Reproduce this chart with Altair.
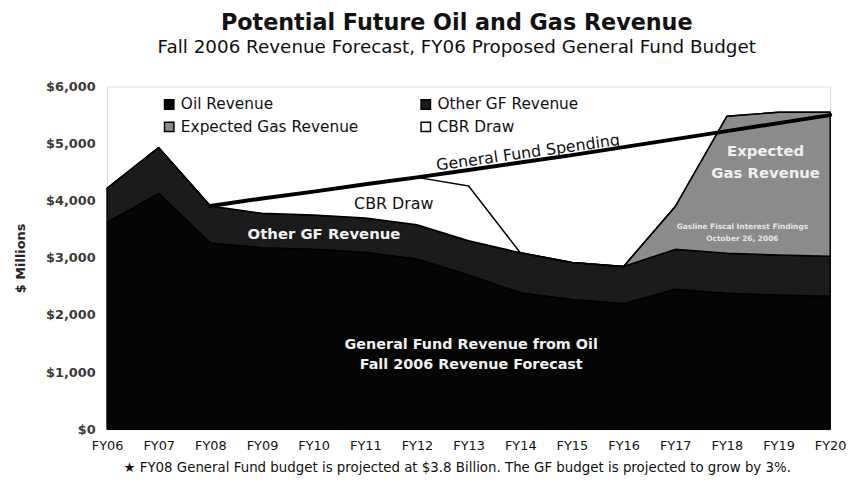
import altair as alt
import pandas as pd

# ---------------- data ($ millions) ----------------
years = list(range(6, 21))
fy_labels = ["FY06", "FY07", "FY08", "FY09", "FY10", "FY11", "FY12", "FY13",
             "FY14", "FY15", "FY16", "FY17", "FY18", "FY19", "FY20"]
y_ticks = [0, 1000, 2000, 3000, 4000, 5000, 6000]

oil = [3620, 4130, 3260, 3180, 3150, 3100, 2980, 2700, 2390, 2270, 2200, 2450, 2380, 2350, 2330]
other = [600, 800, 650, 600, 600, 600, 600, 600, 700, 650, 650, 700, 700, 700, 700]
gas = [0, 0, 0, 0, 0, 0, 0, 0, 0, 0, 0, 750, 2400, 2500, 2520]
cbr = [0, 0, 0, 260, 410, 590, 830, 960, 0, 0, 0, 0, 0, 0, 0]

spend_years = list(range(8, 21))
spending = [3910, 4040, 4160, 4290, 4410, 4540, 4670, 4800, 4940, 5080, 5220, 5360, 5500]

series_names = ["Oil Revenue", "Other GF Revenue", "Expected Gas Revenue", "CBR Draw"]
series_colors = ["#050505", "#1b1b1b", "#8b8b8b", "#ffffff"]

title_text = "Potential Future Oil and Gas Revenue"
subtitle_text = "Fall 2006 Revenue Forecast, FY06 Proposed General Fund Budget"
footnote = "\u2605 FY08 General Fund budget is projected at $3.8 Billion.  The GF budget is projected to grow by 3%."

# ---------------- tables ----------------
rows = []
for k, (name, vals) in enumerate(zip(series_names, [oil, other, gas, cbr])):
    for yr, v in zip(years, vals):
        rows.append({"year": yr, "series": name, "order": k, "value": v})
df = pd.DataFrame(rows)
spend_df = pd.DataFrame({"year": spend_years, "value": spending})

FONT = "DejaVu Sans"
label_array = "[" + ",".join("'%s'" % s for s in fy_labels) + "]"

x_enc = alt.X(
    "year:Q",
    scale=alt.Scale(domain=[years[0], years[-1]], nice=False, zero=False),
    axis=alt.Axis(
        values=years, labelExpr=label_array + "[datum.value - 6]",
        ticks=False, domain=False, grid=False, labelFlush=False, labelOverlap=False,
        labelFont=FONT, labelFontSize=13, labelColor="#111", labelPadding=10,
        title=footnote, titleFont=FONT, titleFontSize=13.5, titleFontWeight="normal",
        titleColor="#111", titleX=353, titleY=43, titleBaseline="alphabetic",
    ),
)
y_enc = alt.Y(
    "value:Q",
    stack="zero",
    scale=alt.Scale(domain=[0, 6000], nice=False),
    axis=alt.Axis(
        values=y_ticks, format="$,.0f", ticks=False, domain=False, grid=False,
        labelFont=FONT, labelFontSize=13, labelFontWeight="bold", labelColor="#3a3a3a",
        labelPadding=12,
        title="$ Millions", titleFont=FONT, titleFontSize=13, titleFontWeight="bold",
        titleColor="#222", titlePadding=18,
    ),
)

areas = alt.Chart(df).mark_area(stroke="black", strokeWidth=1.5, strokeJoin="round").encode(
    x=x_enc,
    y=y_enc,
    color=alt.Color(
        "series:N",
        scale=alt.Scale(domain=series_names, range=series_colors),
        legend=alt.Legend(
            title=None, orient="none", legendX=55, legendY=10, columns=2,
            direction="horizontal", columnPadding=60, rowPadding=6, padding=0,
            symbolType="square", symbolSize=90, symbolStrokeColor="black",
            symbolStrokeWidth=1.5, symbolOpacity=1, labelLimit=400,
            labelFont=FONT, labelFontSize=15.5, labelColor="#111", labelOffset=4,
        ),
    ),
    order=alt.Order("order:Q"),
)

line = alt.Chart(spend_df).mark_line(color="black", strokeWidth=4, strokeCap="round").encode(
    x="year:Q", y="value:Q"
)


def note(text, x, y, **kw):
    d = pd.DataFrame({"x": [x], "y": [y], "t": [text]})
    return alt.Chart(d).mark_text(lineBreak="\n", **kw).encode(
        x="x:Q", y="y:Q", text="t:N"
    )


notes = [
    note("General Fund Spending", 14.15, 4840, font=FONT, fontSize=16, color="#111", angle=352),
    note("CBR Draw", 11.55, 3936, font=FONT, fontSize=16, color="#111"),
    note("Other GF Revenue", 10.2, 3416, font=FONT, fontSize=15, fontWeight="bold",
         color="#f2f2f2"),
    note("Expected\nGas Revenue", 18.75, 4870, font=FONT, fontSize=15, fontWeight="bold",
         color="#f0f0f0", lineHeight=22, baseline="middle"),
    note("Gasline Fiscal Interest Findings\nOctober 26, 2006", 18.3, 3540, font=FONT,
         fontSize=7.5, fontWeight="bold", color="#e6e6e6", lineHeight=12, baseline="middle"),
    note("General Fund Revenue from Oil\nFall 2006 Revenue Forecast", 13.05, 1474, font=FONT,
         fontSize=14.5, fontWeight="bold", color="#f0f0f0", lineHeight=20, baseline="middle"),
]

chart = alt.layer(areas, line, *notes).properties(
    width=730,
    height=346,
    autosize=alt.AutoSizeParams(type="none"),
    padding={"left": 100, "top": 77, "right": 19, "bottom": 58},
    title=alt.TitleParams(
        text=title_text, subtitle=subtitle_text, anchor="middle", frame="group",
        font=FONT, fontSize=22.5, fontWeight="bold", color="#111",
        subtitleFont=FONT, subtitleFontSize=18.5, subtitleColor="#111",
        subtitlePadding=4, offset=24, dx=-12,
    ),
).configure_view(stroke="#b5b5b5", strokeWidth=1).configure(background="white")

chart.save("out.html", embed_options={"renderer": "svg", "actions": False})
